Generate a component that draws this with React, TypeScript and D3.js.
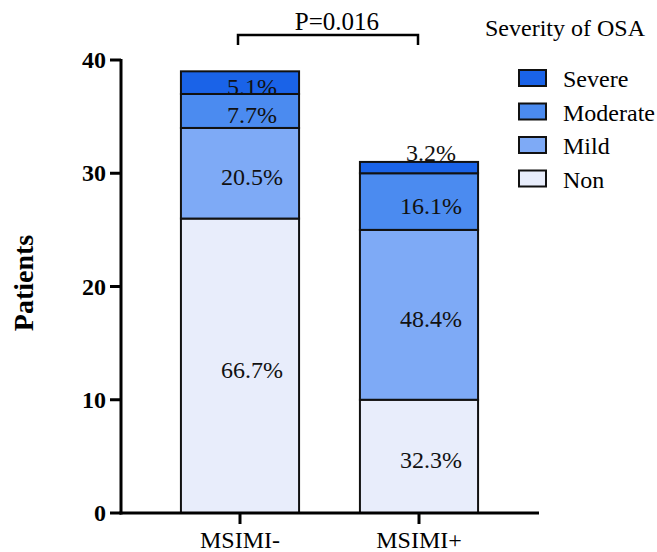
import React, { useRef, useEffect } from 'react';
import * as d3 from 'd3';

const groups = ['MSIMI-', 'MSIMI+'];
const severities = ['Non', 'Mild', 'Moderate', 'Severe'];
const nonCounts = [26, 10];
const mildCounts = [8, 15];
const moderateCounts = [3, 5];
const severeCounts = [2, 1];
const percentLabels = [
  ['66.7%', '20.5%', '7.7%', '5.1%'],
  ['32.3%', '48.4%', '16.1%', '3.2%'],
];
const yTicks = [0, 10, 20, 30, 40];
const pText = 'P=0.016';
const legendTitle = 'Severity of OSA';

const colors = ['#e8edfb', '#7eaaf6', '#4b8bf0', '#1a63e8'];
const serif = '"Liberation Serif", "Times New Roman", serif';

const App = () => {
  const svgRef = useRef<SVGSVGElement | null>(null);

  useEffect(() => {
    const svg = d3.select(svgRef.current);
    svg.selectAll('*').remove();

    const rows = groups.map((g, i) => ({
      group: g,
      Non: nonCounts[i],
      Mild: mildCounts[i],
      Moderate: moderateCounts[i],
      Severe: severeCounts[i],
    }));
    const stacked = d3.stack<any>().keys(severities)(rows);

    const y = d3.scaleLinear().domain([0, 40]).range([513, 60]);
    const x = d3.scaleBand().domain(groups).range([150.5, 508.5])
      .paddingInner(0.34).paddingOuter(0.17);
    const color = d3.scaleOrdinal<string>().domain(severities).range(colors);

    // bars
    stacked.forEach((layer, li) => {
      svg.append('g').selectAll('rect')
        .data(layer)
        .join('rect')
        .attr('x', (d: any) => x(d.data.group)!)
        .attr('width', x.bandwidth())
        .attr('y', d => y(d[1]))
        .attr('height', d => y(d[0]) - y(d[1]))
        .attr('fill', color(severities[li]))
        .attr('stroke', '#111')
        .attr('stroke-width', 2);
    });

    // percentage labels
    stacked.forEach((layer, li) => {
      svg.append('g').selectAll('text')
        .data(layer)
        .join('text')
        .attr('x', (d: any) => x(d.data.group)! + x.bandwidth() / 2 + 12)
        .attr('y', d => {
          const h = y(d[0]) - y(d[1]);
          return h < 15 ? y(d[1]) - 1 : (y(d[0]) + y(d[1])) / 2 + 12;
        })
        .attr('text-anchor', 'middle')
        .attr('font-family', serif)
        .attr('font-size', 24)
        .attr('fill', '#111')
        .text((d, gi) => percentLabels[gi][li]);
    });

    // axes
    const axisColor = '#000';
    svg.append('line').attr('x1', 121).attr('x2', 121)
      .attr('y1', y(40) - 1).attr('y2', y(0) + 1.5)
      .attr('stroke', axisColor).attr('stroke-width', 3);
    svg.append('line').attr('x1', 119.5).attr('x2', 539)
      .attr('y1', y(0)).attr('y2', y(0))
      .attr('stroke', axisColor).attr('stroke-width', 3);

    const yt = svg.append('g');
    yt.selectAll('line').data(yTicks).join('line')
      .attr('x1', 110).attr('x2', 121)
      .attr('y1', d => y(d)).attr('y2', d => y(d))
      .attr('stroke', axisColor).attr('stroke-width', 3);
    yt.selectAll('text').data(yTicks).join('text')
      .attr('x', 106).attr('y', d => y(d) + 8)
      .attr('text-anchor', 'end')
      .attr('font-family', serif).attr('font-weight', 'bold')
      .attr('font-size', 24).attr('fill', '#000')
      .text(d => d);

    const xt = svg.append('g');
    xt.selectAll('line').data(groups).join('line')
      .attr('x1', d => x(d)! + x.bandwidth() / 2).attr('x2', d => x(d)! + x.bandwidth() / 2)
      .attr('y1', y(0)).attr('y2', y(0) + 11)
      .attr('stroke', axisColor).attr('stroke-width', 3);
    xt.selectAll('text').data(groups).join('text')
      .attr('x', d => x(d)! + x.bandwidth() / 2).attr('y', 548)
      .attr('text-anchor', 'middle')
      .attr('font-family', serif).attr('font-size', 24).attr('fill', '#000')
      .text(d => d);

    svg.append('text')
      .attr('transform', 'translate(33,283) rotate(-90)')
      .attr('text-anchor', 'middle')
      .attr('font-family', serif).attr('font-weight', 'bold')
      .attr('font-size', 28).attr('fill', '#000')
      .text('Patients');

    // significance bracket
    const x1 = x(groups[0])! + x.bandwidth() / 2 - 2;
    const x2 = x(groups[1])! + x.bandwidth() / 2 - 1;
    svg.append('path')
      .attr('d', `M${x1},45V35H${x2}V45`)
      .attr('fill', 'none').attr('stroke', '#000').attr('stroke-width', 2.5);
    svg.append('text')
      .attr('x', (x1 + x2) / 2 + 9).attr('y', 30)
      .attr('text-anchor', 'middle')
      .attr('font-family', serif).attr('font-size', 25).attr('fill', '#000')
      .text(pText);

    // legend
    svg.append('text')
      .attr('x', 485).attr('y', 36)
      .attr('font-family', serif).attr('font-size', 24).attr('fill', '#000')
      .text(legendTitle);
    const legendOrder = severities.slice().reverse();
    const lg = svg.append('g').selectAll('g').data(legendOrder).join('g')
      .attr('transform', (d, i) => `translate(519,${70 + i * 33.5})`);
    lg.append('rect')
      .attr('width', 27).attr('height', 16)
      .attr('fill', d => color(d))
      .attr('stroke', '#111').attr('stroke-width', 2);
    lg.append('text')
      .attr('x', 44).attr('y', 17)
      .attr('font-family', serif).attr('font-size', 24).attr('fill', '#000')
      .text(d => d);
  }, []);

  return (
    <svg ref={svgRef} width={657} height={552}
      style={{ position: 'absolute', left: 0, top: 0, background: '#fff' }} />
  );
};

export default App;
